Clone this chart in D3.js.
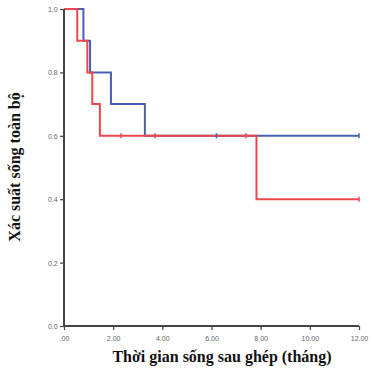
<!DOCTYPE html>
<html>
<head>
<meta charset="utf-8">
<script src="https://cdn.jsdelivr.net/npm/d3@7"></script>
<style>
  body { margin: 0; background: #fff; }
</style>
</head>
<body>
<div class="canvas"></div>
<script>
// step curves: times where survival drops, and survival level after each step
const blueTimes = [0, 0.79, 1.06, 1.91, 3.29];
const blueSurv = [1.0, 0.9, 0.8, 0.7, 0.6];
const blueCensor = [6.2, 12];
const redTimes = [0, 0.54, 0.95, 1.15, 1.46, 7.83];
const redSurv = [1.0, 0.9, 0.8, 0.7, 0.6, 0.4];
const redCensor = [2.32, 3.7, 7.4, 12];
const xTicks = [0, 2, 4, 6, 8, 10, 12];
const yTicks = [0, 0.2, 0.4, 0.6, 0.8, 1.0];

const dims = { width: 375, height: 375 };
const margin = { left: 64, right: 16, top: 9, bottom: 49 };

const svg = d3.select('.canvas')
  .append('svg')
  .attr('width', dims.width)
  .attr('height', dims.height);

const x = d3.scaleLinear().domain([0, 12]).range([margin.left, dims.width - margin.right]);
const y = d3.scaleLinear().domain([0, 1]).range([dims.height - margin.bottom, margin.top]);

// build step points (last one runs to 12)
const toSteps = (times, surv) => {
  const pts = times.map((t, i) => ({ t, s: surv[i] }));
  pts.push({ t: 12, s: surv[surv.length - 1] });
  return pts;
};

const line = d3.line()
  .x(d => x(d.t))
  .y(d => y(d.s))
  .curve(d3.curveStepAfter);

const survAt = (times, surv, t) => {
  let s = surv[0];
  times.forEach((tt, i) => { if (t >= tt) s = surv[i]; });
  return s;
};

const blue = '#4a60b6';
const red = '#ec474d';

svg.append('path')
  .attr('d', line(toSteps(blueTimes, blueSurv)))
  .attr('fill', 'none')
  .attr('stroke', blue)
  .attr('stroke-width', 2);

svg.append('path')
  .attr('d', line(toSteps(redTimes, redSurv)))
  .attr('fill', 'none')
  .attr('stroke', red)
  .attr('stroke-width', 2);

// censor marks
svg.selectAll('.cb')
  .data(blueCensor)
  .enter().append('line')
    .attr('x1', d => x(d)).attr('x2', d => x(d))
    .attr('y1', d => y(survAt(blueTimes, blueSurv, d)) - 2.5)
    .attr('y2', d => y(survAt(blueTimes, blueSurv, d)) + 2.5)
    .attr('stroke', blue)
    .attr('stroke-width', 1.5);

svg.selectAll('.cr')
  .data(redCensor)
  .enter().append('line')
    .attr('x1', d => x(d)).attr('x2', d => x(d))
    .attr('y1', d => y(survAt(redTimes, redSurv, d)) - 2.5)
    .attr('y2', d => y(survAt(redTimes, redSurv, d)) + 2.5)
    .attr('stroke', red)
    .attr('stroke-width', 1.5);

// axes
const xAxis = d3.axisBottom(x)
  .tickValues(xTicks)
  .tickSize(4)
  .tickFormat(d => d === 0 ? '.00' : d3.format('.2f')(d));

const yAxis = d3.axisLeft(y)
  .tickValues(yTicks)
  .tickSize(4)
  .tickFormat(d3.format('.1f'));

const gx = svg.append('g')
  .attr('transform', `translate(0, ${y(0)})`)
  .call(xAxis);

const gy = svg.append('g')
  .attr('transform', `translate(${x(0)}, 0)`)
  .call(yAxis);

[gx, gy].forEach(g => {
  g.select('.domain').attr('stroke', '#444').attr('stroke-width', 2);
  g.selectAll('.tick line').attr('stroke', '#444').attr('stroke-width', 1.2);
  g.selectAll('.tick text')
    .attr('fill', '#666')
    .style('font-family', 'Arial, "Liberation Sans", sans-serif')
    .style('font-size', '7px');
});
gx.select('.domain').attr('d', `M${x(0)},0H${x(12)}`);
gy.select('.domain').attr('d', `M0,${y(0)}V${y(1)}`);
gx.selectAll('.tick text').attr('dy', '1.2em');
gy.selectAll('.tick text').attr('dx', '0.1em').attr('dy', '0.35em');

// titles
svg.append('text')
  .attr('x', 222)
  .attr('y', 362)
  .attr('text-anchor', 'middle')
  .style('font-family', '"Liberation Serif", "Times New Roman", serif')
  .style('font-weight', 'bold')
  .style('font-size', '16px')
  .attr('fill', '#111')
  .text('Thời gian sống sau ghép (tháng)');

svg.append('text')
  .attr('transform', 'translate(20, 167) rotate(-90)')
  .attr('text-anchor', 'middle')
  .style('font-family', '"Liberation Serif", "Times New Roman", serif')
  .style('font-weight', 'bold')
  .style('font-size', '16px')
  .attr('fill', '#111')
  .text('Xác suất sống toàn bộ');
</script>
</body>
</html>
